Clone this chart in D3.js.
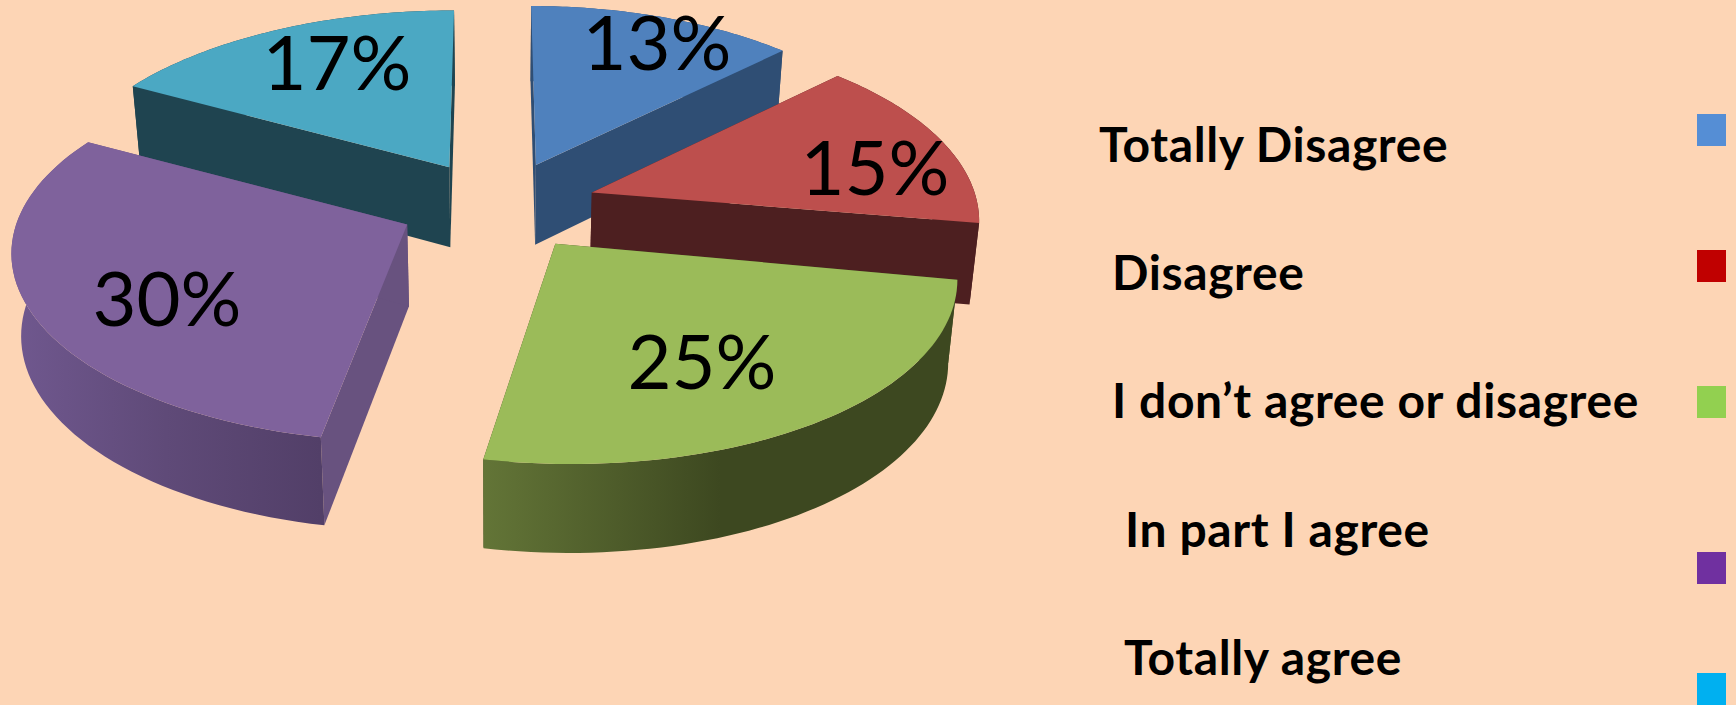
<!DOCTYPE html>
<html>
<head>
<meta charset="utf-8">
<script src="https://cdn.jsdelivr.net/npm/d3@7"></script>
<style>
  html, body { margin: 0; padding: 0; background: #fdd5b5; overflow: hidden; }
  text { font-family: Lato, "Open Sans", sans-serif; fill: #000; }
</style>
</head>
<body>
<svg id="main" width="1736" height="705"></svg>
<script>
//--------data----------
const categories = ['Totally Disagree', 'Disagree', 'I don\u2019t agree or disagree', 'In part I agree', 'Totally agree'];
const values = [13, 15, 25, 30, 17];

//--------style----------
const topColors = ['#4f81bd', '#bd4f4d', '#9bbb59', '#7f629c', '#4ba8c3'];
const sideColors = ['#2f4e74', '#4d1f20', '#3d4820', '#68527f', '#1f4450'];
const wallStops = [
  ['#2f4e74', '#2f4e74'],
  ['#4d1f20', '#4d1f20'],
  ['#637537', '#3d4820', '#3d4820'],
  ['#70588f', '#5f4a78', '#523f68'],
  ['#1f4450', '#1f4450']
];
const swatchColors = ['#558ed5', '#c00000', '#92d050', '#7030a0', '#00b0f0'];
const drawOrder = [4, 0, 1, 3, 2];
const labelAt = [[657, 70], [875, 195], [702, 389], [167, 326], [337, 90]];
const legendAt = [[1099, 162], [1112, 290], [1112, 418], [1125, 547], [1124, 675]];
const swatchTop = [114, 250, 386, 552, 673];
// the 3d in the picture is not a clean projection, small per-slice corrections
const rimScale = [0.96, 0.965, 1, 0.99, 0.99];
const rimScaleY = [1, 1, 1.03, 1.015, 1];
const rimSkew = [0.03, 0.05, 0.07, 0, -0.03];
const rimLift = [2, 4.5, 0, 0, 0];

//--------code----------
const cx = 498, cy = 205, rx = 395, ry = 181, persp = 0.154, explode = 0.25;

// circle in the pie plane -> screen, nearer points get bigger
function project(u, v){
  let s = 1 / (1 - persp * v);
  return [cx + rx * u * s, cy + ry * v * s];
}
function lower(p){
  return [cx + (p[0] - cx) * 0.98, p[1] * 1.03 + 75];
}

const svg = d3.select('#main');
const defs = svg.append('defs');
const line = d3.line();

const slices = d3.pie().sort(null)(values);

drawOrder.forEach(i=>{
  let d = slices[i];
  let mid = (d.startAngle + d.endAngle) / 2;
  let apex = project(Math.sin(mid) * explode, -Math.cos(mid) * explode);

  // rim is measured from the slice's own apex, so the explode doesn't stretch it
  let at = a => {
    let p = project(Math.sin(a), -Math.cos(a));
    let dx = (p[0] - cx) * rimScale[i], dy = (p[1] - cy) * rimScaleY[i];
    return [apex[0] + dx + dy * rimSkew[i], apex[1] + dy - rimLift[i]];
  };
  let arc = d3.range(0, 61).map(k=>at(d.startAngle + (d.endAngle - d.startAngle) * k / 60));

  let g = svg.append('g').attr('class', 'slice');

  // the two cut faces
  [arc[0], arc[60]].forEach(p=>{
    g.append('path')
    .attr('d', line([apex, p, lower(p), lower(apex)]) + 'Z')
    .attr('fill', sideColors[i]);
  });

  // outer wall, shaded left to right
  let xs = d3.extent(arc, p=>p[0]);
  let grad = defs.append('linearGradient')
  .attr('id', 'wall' + i)
  .attr('gradientUnits', 'userSpaceOnUse')
  .attr('x1', xs[0]).attr('x2', xs[1]).attr('y1', 0).attr('y2', 0);
  wallStops[i].forEach((c, k, all)=>{
    grad.append('stop').attr('offset', k / (all.length - 1)).attr('stop-color', c);
  });
  g.append('path')
  .attr('d', line(arc.concat(arc.map(lower).reverse())) + 'Z')
  .attr('fill', `url(#wall${i})`);

  g.append('path')
  .attr('d', line([apex].concat(arc)) + 'Z')
  .attr('fill', topColors[i]);
});

svg.selectAll('.pct')
.data(values)
.join('text')
.attr('class', 'pct')
.attr('x', (d, i)=>labelAt[i][0])
.attr('y', (d, i)=>labelAt[i][1])
.attr('text-anchor', 'middle')
.style('font-size', '76px')
.text(d=>d + '%');

svg.selectAll('.legendText')
.data(categories)
.join('text')
.attr('class', 'legendText')
.attr('x', (d, i)=>legendAt[i][0])
.attr('y', (d, i)=>legendAt[i][1])
.style('font-size', '48px')
.style('font-weight', 700)
.style('letter-spacing', '0.6px')
.text(d=>d);

svg.selectAll('.swatch')
.data(swatchColors)
.join('rect')
.attr('class', 'swatch')
.attr('x', 1697)
.attr('y', (d, i)=>swatchTop[i])
.attr('width', 29)
.attr('height', 32)
.attr('fill', d=>d);
</script>
</body>
</html>
